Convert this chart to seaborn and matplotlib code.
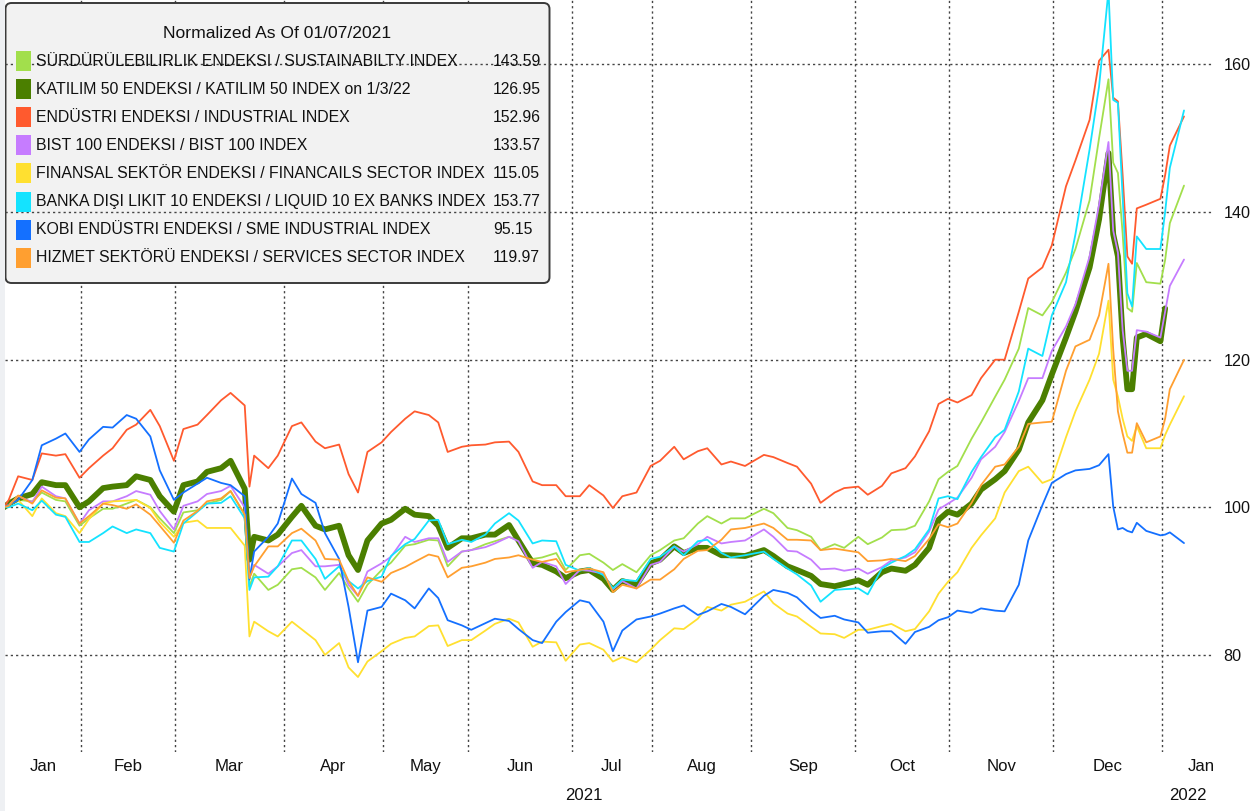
import numpy as np
import pandas as pd
import matplotlib
matplotlib.use("Agg")
import matplotlib.pyplot as plt
import seaborn as sns
from matplotlib.patches import FancyBboxPatch, Rectangle
from matplotlib.transforms import IdentityTransform, blended_transform_factory

sns.set_theme(style="white")
plt.rcParams["font.family"] = ["Liberation Sans Narrow", "DejaVu Sans Condensed",
                               "Liberation Sans", "DejaVu Sans"]

# ---------------- data ----------------
dates = [
    "2021-01-07", "2021-01-08", "2021-01-12", "2021-01-15", "2021-01-19", "2021-01-22", "2021-01-26", "2021-01-29", "2021-02-02", "2021-02-05",
    "2021-02-09", "2021-02-12", "2021-02-16", "2021-02-19", "2021-02-23", "2021-02-26", "2021-03-02", "2021-03-05", "2021-03-09", "2021-03-12",
    "2021-03-16", "2021-03-19", "2021-03-22", "2021-03-23", "2021-03-26", "2021-03-30", "2021-04-02", "2021-04-06", "2021-04-09", "2021-04-13",
    "2021-04-16", "2021-04-20", "2021-04-22", "2021-04-27", "2021-04-30", "2021-05-04", "2021-05-07", "2021-05-11", "2021-05-18", "2021-05-21",
    "2021-05-25", "2021-05-28", "2021-06-01", "2021-06-04", "2021-06-08", "2021-06-11", "2021-06-15", "2021-06-18", "2021-06-22", "2021-06-25",
    "2021-06-29", "2021-07-02", "2021-07-06", "2021-07-09", "2021-07-13", "2021-07-16", "2021-07-27", "2021-07-30", "2021-08-03", "2021-08-06",
    "2021-08-10", "2021-08-13", "2021-08-17", "2021-08-20", "2021-08-24", "2021-08-27", "2021-09-03", "2021-09-07", "2021-09-10", "2021-09-14",
    "2021-09-17", "2021-09-21", "2021-09-24", "2021-09-28", "2021-10-01", "2021-10-05", "2021-10-08", "2021-10-12", "2021-10-15", "2021-10-19",
    "2021-10-22", "2021-10-26", "2021-10-28", "2021-11-02", "2021-11-05", "2021-11-09", "2021-11-12", "2021-11-16", "2021-11-19", "2021-11-23",
    "2021-11-26", "2021-11-30", "2021-12-03", "2021-12-07", "2021-12-10", "2021-12-14", "2021-12-16", "2021-12-17", "2021-12-20", "2021-12-21",
    "2021-12-22", "2021-12-23", "2021-12-24", "2021-12-28", "2021-12-31", "2022-01-03", "2022-01-04", "2022-01-07",
]

# Borsa Istanbul closed days in the period (trading-day axis)
holidays = ["2021-04-23", "2021-05-13", "2021-05-14", "2021-05-19", "2021-07-15",
            "2021-07-20", "2021-07-21", "2021-07-22", "2021-07-23", "2021-08-30", "2021-10-29"]

sustainability = [
    100.0, 100.2, 101.0, 100.8, 102.0, 101.0, 100.8, 97.5, 98.5, 99.8,
    99.8, 100.5, 101.0, 100.0, 98.5, 96.5, 99.3, 99.6, 100.5, 101.0,
    102.2, 99.0, 89.3, 91.0, 88.8, 89.5, 91.6, 91.8, 90.5, 88.8,
    91.1, 89.0, 87.2, 89.5, 91.5, 92.5, 94.8, 95.0, 95.6, 95.5,
    92.0, 94.0, 94.2, 95.0, 95.4, 96.0, 95.5, 93.0, 93.2, 93.8,
    91.5, 93.5, 93.7, 92.5, 91.5, 92.3, 91.2, 93.5, 94.2, 95.5,
    95.8, 97.8, 98.8, 97.8, 98.5, 98.5, 99.8, 99.2, 97.2, 96.9,
    96.0, 94.2, 95.0, 94.5, 96.0, 95.0, 95.9, 96.9, 97.0, 97.5,
    100.8, 103.8, 104.8, 105.6, 109.3, 111.5, 115.0, 117.3, 121.5, 127.0,
    126.0, 127.8, 131.8, 135.0, 141.6, 150.0, 158.0, 146.7, 145.3, 137.1,
    127.0, 126.5, 133.1, 130.5, 130.3, 133.5, 138.5, 143.59,
]
katilim = [
    100.0, 100.5, 101.2, 101.8, 103.4, 103.0, 103.0, 100.0, 100.8, 102.6,
    102.8, 103.0, 104.2, 103.7, 101.5, 99.4, 103.0, 103.5, 104.8, 105.3,
    106.3, 102.5, 92.9, 96.0, 95.5, 96.3, 98.7, 100.2, 97.5, 97.0,
    97.5, 93.5, 91.5, 95.5, 97.8, 98.3, 99.8, 99.0, 98.8, 97.5,
    94.5, 95.8, 95.8, 96.3, 96.3, 97.6, 95.5, 92.4, 92.2, 91.3,
    90.4, 91.3, 91.5, 90.3, 88.8, 90.0, 89.5, 92.4, 92.9, 94.7,
    93.8, 94.5, 94.5, 93.5, 93.5, 93.4, 94.2, 93.4, 92.0, 91.5,
    90.7, 89.6, 89.3, 89.6, 90.1, 89.5, 91.2, 91.7, 91.4, 92.2,
    94.5, 98.3, 99.4, 99.0, 100.5, 102.4, 103.8, 104.9, 107.8, 111.5,
    114.5, 118.0, 123.0, 126.5, 132.5, 139.0, 148.0, 137.0, 134.0, 123.0,
    116.0, 116.0, 123.0, 123.5, 122.5, 126.95, np.nan, np.nan,
]
industrial = [
    100.0, 101.0, 104.2, 103.7, 107.3, 107.0, 107.2, 104.0, 105.3, 107.0,
    108.0, 110.5, 111.2, 113.2, 111.0, 106.3, 110.6, 111.2, 112.5, 114.5,
    115.5, 113.8, 102.8, 107.0, 105.3, 107.0, 111.0, 111.5, 108.9, 108.0,
    108.5, 104.5, 102.0, 107.5, 108.8, 110.2, 112.0, 113.0, 112.5, 111.5,
    107.5, 108.2, 108.4, 108.5, 108.8, 108.9, 107.5, 103.5, 103.0, 103.0,
    101.5, 101.5, 103.0, 101.6, 99.9, 101.5, 102.0, 105.6, 106.3, 108.2,
    106.5, 107.6, 108.0, 105.8, 106.2, 105.6, 107.1, 106.8, 106.0, 105.5,
    103.2, 100.6, 102.0, 102.6, 102.8, 101.7, 102.9, 104.6, 105.3, 106.9,
    110.3, 114.0, 114.7, 114.2, 115.2, 117.5, 120.0, 120.0, 126.5, 131.0,
    132.5, 135.5, 143.5, 147.0, 152.5, 160.5, 162.0, 155.5, 155.0, 145.0,
    134.0, 133.0, 140.5, 141.0, 141.8, 145.0, 149.0, 152.96,
]
bist100 = [
    100.0, 100.3, 101.5, 100.7, 102.8, 101.5, 101.2, 97.8, 99.6, 100.8,
    100.8, 101.5, 102.2, 101.7, 99.5, 97.0, 100.2, 100.8, 101.8, 102.2,
    102.9, 100.0, 90.4, 92.2, 91.0, 92.0, 93.8, 94.2, 92.0, 92.0,
    92.2, 89.5, 88.0, 91.3, 92.4, 93.3, 96.0, 95.3, 95.8, 95.8,
    92.6, 94.0, 94.2, 94.6, 95.1, 96.0, 95.4, 91.8, 92.6, 92.0,
    89.6, 91.5, 91.4, 91.0, 88.9, 90.0, 89.0, 92.2, 92.6, 94.7,
    94.0, 95.0, 96.0, 95.1, 95.3, 95.5, 97.0, 96.0, 94.1, 94.0,
    92.9, 91.6, 91.7, 91.4, 91.7, 91.0, 91.9, 92.8, 93.2, 93.9,
    96.7, 99.7, 100.5, 101.3, 104.0, 106.5, 108.2, 110.2, 114.4, 117.5,
    117.5, 121.2, 124.5, 127.5, 134.0, 141.0, 149.5, 137.5, 134.5, 124.0,
    118.5, 118.5, 124.0, 123.8, 123.0, 126.5, 130.0, 133.57,
]
financials = [
    100.0, 100.3, 101.0, 98.8, 101.2, 99.2, 98.8, 96.5, 98.4, 100.5,
    100.8, 100.9, 101.0, 99.9, 98.0, 96.0, 97.9, 98.2, 97.2, 97.2,
    97.2, 94.8, 82.5, 84.5, 83.2, 82.5, 84.5, 83.5, 82.0, 80.0,
    81.6, 78.3, 77.0, 79.1, 80.5, 81.5, 82.3, 82.5, 83.9, 84.0,
    81.2, 82.0, 82.0, 83.3, 84.2, 84.9, 84.4, 81.1, 81.8, 81.7,
    79.2, 81.4, 81.6, 80.7, 79.1, 79.7, 79.0, 80.7, 82.0, 83.6,
    83.5, 84.9, 86.5, 86.0, 86.8, 87.2, 88.6, 87.0, 85.6, 85.2,
    83.8, 82.9, 82.8, 82.3, 83.4, 83.4, 83.9, 84.2, 83.2, 83.5,
    85.9, 88.3, 89.9, 91.2, 94.5, 96.2, 98.5, 102.0, 104.9, 105.5,
    103.3, 103.8, 109.5, 113.0, 117.3, 120.8, 128.0, 117.3, 115.0, 112.0,
    109.6, 109.0, 111.0, 108.0, 108.0, 109.8, 111.2, 115.05,
]
liquid10_ex_banks = [
    100.0, 100.0, 100.5, 99.6, 100.9, 99.0, 98.7, 95.3, 95.3, 96.5,
    97.4, 96.5, 97.0, 96.5, 94.5, 94.0, 97.8, 99.4, 100.5, 100.6,
    101.5, 98.5, 88.8, 90.5, 90.6, 92.0, 95.5, 95.5, 93.0, 90.3,
    92.0, 90.0, 89.0, 90.0, 90.6, 93.4, 95.0, 95.7, 98.2, 98.3,
    95.0, 95.6, 95.3, 96.3, 97.8, 99.2, 98.2, 95.1, 95.5, 95.4,
    92.2, 91.4, 91.8, 90.8, 89.0, 90.2, 90.0, 93.0, 93.3, 94.7,
    93.5, 95.4, 95.6, 93.8, 93.2, 93.5, 94.0, 93.0, 91.7, 90.9,
    89.4, 87.2, 88.8, 88.9, 89.0, 88.2, 91.7, 92.5, 93.4, 94.3,
    97.0, 101.2, 101.5, 101.1, 104.8, 106.8, 109.5, 110.5, 115.7, 121.5,
    120.5, 126.0, 130.5, 137.0, 148.5, 157.0, 170.0, 155.2, 154.8, 142.0,
    129.0, 127.2, 136.7, 135.0, 135.0, 140.0, 146.0, 153.77,
]
sme_industrial = [
    100.0, 100.3, 101.0, 103.7, 108.4, 109.3, 110.0, 107.5, 109.2, 110.9,
    110.8, 112.5, 112.0, 109.6, 105.0, 101.0, 102.0, 103.2, 104.0, 103.3,
    103.0, 101.5, 90.2, 94.0, 96.0, 97.8, 103.9, 101.8, 100.6, 96.5,
    93.0, 86.5, 79.0, 86.0, 86.5, 88.3, 87.4, 86.3, 89.0, 87.7,
    84.7, 84.0, 83.4, 84.3, 84.9, 84.6, 83.5, 82.0, 81.6, 84.5,
    85.8, 87.4, 87.1, 84.5, 80.5, 83.3, 84.8, 85.2, 85.6, 86.3,
    86.7, 85.4, 85.9, 86.9, 86.5, 85.5, 88.0, 88.8, 88.4, 87.8,
    86.0, 85.0, 85.3, 84.8, 84.4, 83.0, 83.2, 83.2, 81.5, 83.1,
    83.8, 84.7, 85.1, 86.0, 85.7, 86.3, 86.0, 85.9, 89.5, 95.5,
    100.3, 103.3, 104.5, 105.0, 105.2, 105.7, 107.2, 100.1, 97.0, 97.2,
    96.8, 96.6, 97.9, 96.8, 96.2, 96.3, 96.6, 95.15,
]
services = [
    100.0, 100.2, 101.6, 100.5, 102.3, 101.3, 101.2, 97.8, 98.8, 100.5,
    100.3, 99.8, 100.4, 99.0, 97.5, 95.2, 98.2, 99.5, 100.8, 101.2,
    102.2, 99.0, 90.4, 92.0, 94.7, 94.7, 96.5, 97.1, 95.5, 93.0,
    92.9, 90.0, 88.0, 90.5, 89.9, 91.1, 91.9, 92.6, 93.6, 93.3,
    90.5, 91.8, 92.0, 92.5, 93.0, 93.2, 93.5, 92.9, 92.6, 93.0,
    91.2, 91.5, 91.7, 91.2, 88.5, 89.5, 89.0, 90.2, 90.2, 91.6,
    93.0, 94.1, 94.2, 95.6, 97.0, 97.2, 97.8, 97.2, 95.6, 95.6,
    95.5, 94.2, 94.4, 94.2, 93.9, 92.7, 92.8, 93.0, 92.7, 93.4,
    95.7, 97.7, 97.3, 97.8, 100.6, 103.0, 105.5, 105.8, 108.2, 111.3,
    111.5, 111.6, 118.5, 121.8, 122.7, 126.0, 133.0, 121.4, 113.0, 110.0,
    107.4, 107.4, 111.4, 108.8, 109.6, 112.0, 116.0, 119.97,
]

series_labels = [
    "SÜRDÜRÜLEBILIRLIK ENDEKSI / SUSTAINABILTY INDEX",
    "KATILIM 50 ENDEKSI / KATILIM 50 INDEX on 1/3/22",
    "ENDÜSTRI ENDEKSI / INDUSTRIAL INDEX",
    "BIST 100 ENDEKSI / BIST 100 INDEX",
    "FINANSAL SEKTÖR ENDEKSI / FINANCAILS SECTOR INDEX",
    "BANKA DIŞI LIKIT 10 ENDEKSI / LIQUID 10 EX BANKS INDEX",
    "KOBI ENDÜSTRI ENDEKSI / SME INDUSTRIAL INDEX",
    "HIZMET SEKTÖRÜ ENDEKSI / SERVICES SECTOR INDEX",
]
last_values = ["143.59", "126.95", "152.96", "133.57", "115.05", "153.77", "95.15", "119.97"]
series_values = [sustainability, katilim, industrial, bist100, financials,
                 liquid10_ex_banks, sme_industrial, services]
series_colors = ["#a2df4c", "#4b7f00", "#ff5a2e", "#c67cff", "#ffe030",
                 "#14e3ff", "#1470ff", "#ff9f30"]
series_widths = [1.3, 4.2, 1.3, 1.3, 1.3, 1.3, 1.3, 1.3]

y_ticks = [80, 100, 120, 140, 160]
month_labels = ["Jan", "Feb", "Mar", "Apr", "May", "Jun", "Jul", "Aug",
                "Sep", "Oct", "Nov", "Dec", "Jan"]
year_labels = ["2021", "2022"]
legend_title = "Normalized As Of 01/07/2021"

# ---------------- trading-day scale ----------------
cal = pd.bdate_range("2021-01-07", "2022-01-31")
cal = cal[~cal.isin(pd.to_datetime(holidays))]
pos = cal.get_indexer(pd.to_datetime(dates))
months = cal.to_period("M")
month_starts = [i for i in range(1, len(cal)) if months[i] != months[i - 1]]

frames = [pd.DataFrame({"pos": pos, "value": vals, "series": lab})
          for lab, vals in zip(series_labels, series_values)]
df = pd.concat(frames, ignore_index=True)

# ---------------- figure ----------------
W, H = 1252, 811
fig = plt.figure(figsize=(W / 100, H / 100), dpi=100)
fig.patch.set_facecolor("white")
renderer = fig.canvas.get_renderer()


def fit_size(sample, target_px, base=13.0):
    t = fig.text(0, 0, sample, fontsize=base)
    w = t.get_window_extent(renderer=renderer).width
    t.remove()
    return base * target_px / w


legend_fs = fit_size(series_labels[5], 450)
title_fs = fit_size(legend_title, 228)
value_fs = fit_size(last_values[0], 48)
ytick_fs = fit_size("160", 27)
month_fs = fit_size("Jan", 27)

ax_left, ax_right, ax_top, ax_bottom = 5, 1213, 0, 752
ax = fig.add_axes([ax_left / W, 1 - ax_bottom / H, (ax_right - ax_left) / W, (ax_bottom - ax_top) / H])
ax.set_facecolor("white")

px_per_day = 4.72
x0 = (ax_left - 4) / px_per_day
x1 = (ax_right - 4) / px_per_day
ax.set_xlim(x0, x1)
ax.set_ylim(66.84, 168.74)

grid_kw = dict(color="#444444", lw=1.0, linestyle=(0, (1.6, 2.2)))
boundaries = [s - 0.7 for s in month_starts]
for b in boundaries:
    ax.axvline(b, zorder=0.5, **grid_kw)
for t in y_ticks:
    ax.axhline(t, zorder=1.5, **grid_kw)

for lab, col, lw in zip(series_labels, series_colors, series_widths):
    sub = df[df["series"] == lab].dropna()
    sns.lineplot(data=sub, x="pos", y="value", color=col, linewidth=lw,
                 ax=ax, legend=False, estimator=None, zorder=2,
                 solid_joinstyle="round")

for s in ax.spines.values():
    s.set_visible(False)

ax.yaxis.tick_right()
ax.set_yticks(y_ticks)
ax.set_yticklabels([str(t) for t in y_ticks])
ax.tick_params(axis="y", length=0, pad=7.5, labelsize=ytick_fs, labelcolor="#111111")

edges = [x0] + boundaries + [262.0]
mids = [(edges[i] + edges[i + 1]) / 2 for i in range(len(edges) - 1)]
ax.set_xticks(mids)
ax.set_xticklabels(month_labels)
ax.tick_params(axis="x", length=0, pad=5, labelsize=month_fs, labelcolor="#111111")
ax.set_xlabel("")
ax.set_ylabel("")
ax.grid(False)

trans = blended_transform_factory(ax.transData, ax.transAxes)
year_pos = [(x0 + boundaries[-1]) / 2, (boundaries[-1] + x1) / 2]
for yp, yl in zip(year_pos, year_labels):
    ax.text(yp, -(796 - ax_bottom) / (ax_bottom - ax_top), yl, transform=trans,
            ha="center", va="center", fontsize=month_fs, color="#111111", clip_on=False)

# left light strip
fig.patches.append(Rectangle((0, 0), 5, H, transform=IdentityTransform(),
                             fc="#eef0f3", ec="none", zorder=0))

# ---------------- legend box ----------------
box = FancyBboxPatch((5.5, H - 283), 544, 280, boxstyle="round,pad=0,rounding_size=6",
                     transform=IdentityTransform(), fc="#f2f2f2", ec="#3a3a3a",
                     lw=1.4, zorder=1, clip_on=False)
ax.add_patch(box)

fig.text(277 / W, 1 - 33 / H, legend_title, ha="center", va="center",
         fontsize=title_fs, color="#111111")
row_y0, row_dy = 61, 28.1
for i, (lab, col, val) in enumerate(zip(series_labels, series_colors, last_values)):
    yc = row_y0 + i * row_dy
    fig.patches.append(Rectangle((16, H - yc - 10), 15, 20, transform=IdentityTransform(),
                                 fc=col, ec="none", zorder=3))
    fig.text(36 / W, 1 - yc / H, lab, ha="left", va="center", fontsize=legend_fs, color="#111111")
    fig.text(493 / W, 1 - yc / H, val, ha="left", va="center", fontsize=value_fs, color="#111111")

fig.savefig("out.png", dpi=100, facecolor="white")
